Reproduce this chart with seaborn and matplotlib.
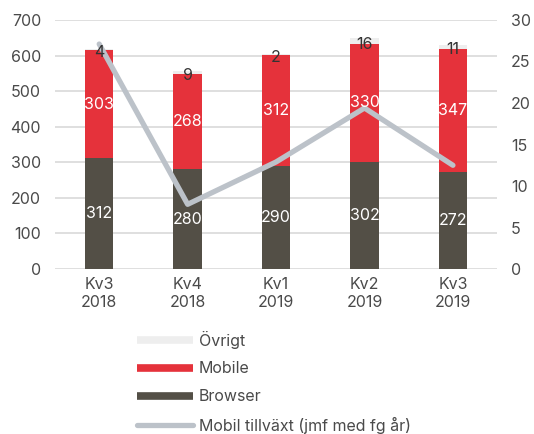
import numpy as np
import pandas as pd
import matplotlib
matplotlib.use("Agg")
import matplotlib.pyplot as plt
import seaborn as sns
from matplotlib.lines import Line2D

quarters = ["Kv3\n2018", "Kv4\n2018", "Kv1\n2019", "Kv2\n2019", "Kv3\n2019"]
browser = [312, 280, 290, 302, 272]
mobile = [303, 268, 312, 330, 347]
ovrigt = [4, 9, 2, 16, 11]
growth = [27.1, 7.8, 12.9, 19.4, 12.5]

c_browser = "#534f46"
c_mobile = "#e5323b"
c_ovrigt = "#eeeeee"
c_line = "#bcc2c9"
c_text = "#4a4a4a"

sns.set_theme(style="white")
plt.rcParams["font.family"] = ["Inter", "DejaVu Sans"]

df = pd.DataFrame({"q": quarters, "browser": browser, "mobile": mobile, "ovrigt": ovrigt})
df["bm"] = df["browser"] + df["mobile"]
df["total"] = df["bm"] + df["ovrigt"]

fig = plt.figure(figsize=(5.34, 4.34), dpi=100)
ax = fig.add_axes([0.103, 0.38, 0.828, 0.574])

bar_kw = dict(width=0.32, ax=ax, saturation=1, zorder=2, linewidth=0, edgecolor="none")
sns.barplot(data=df, x="q", y="total", color=c_ovrigt, **bar_kw)
sns.barplot(data=df, x="q", y="bm", color=c_mobile, **bar_kw)
sns.barplot(data=df, x="q", y="browser", color=c_browser, **bar_kw)

fs = 11.5
ax.set_ylim(0, 700)
ax.set_yticks(range(0, 701, 100))
ax.set_xlim(-0.5, 4.5)
ax.set_xlabel("")
ax.set_ylabel("")
ax.yaxis.grid(True, color="#d9d9d9", linewidth=1.2, zorder=0)
ax.set_axisbelow(True)
for s in ax.spines.values():
    s.set_visible(False)
ax.tick_params(axis="both", length=0, labelsize=fs, labelcolor=c_text)
ax.tick_params(axis="y", pad=10)
ax.tick_params(axis="x", pad=6)

ax2 = ax.twinx()
sns.lineplot(x=np.arange(len(quarters)), y=growth, color=c_line, linewidth=3.8, ax=ax2, zorder=4, solid_capstyle="round")
ax2.set_ylim(0, 30)
ax2.set_yticks(range(0, 31, 5))
ax2.set_xlim(-0.5, 4.5)
for s in ax2.spines.values():
    s.set_visible(False)
ax2.tick_params(axis="y", length=0, labelsize=fs, labelcolor=c_text, pad=10)
ax2.set_ylabel("")

tr = ax.transData
for i in range(len(quarters)):
    ax2.text(i, browser[i] / 2, str(browser[i]), ha="center", va="center", color="white", fontsize=fs, zorder=6, transform=tr)
    ax2.text(i, browser[i] + mobile[i] / 2, str(mobile[i]), ha="center", va="center", color="white", fontsize=fs, zorder=6, transform=tr)
    ax2.text(i, browser[i] + mobile[i] + ovrigt[i] / 2 - 8, str(ovrigt[i]), ha="center", va="center", color="#333333", fontsize=fs, zorder=6, transform=tr)

handles = [
    Line2D([0], [0], color=c_ovrigt, linewidth=5.5, solid_capstyle="butt"),
    Line2D([0], [0], color=c_mobile, linewidth=5.5, solid_capstyle="butt"),
    Line2D([0], [0], color=c_browser, linewidth=5.5, solid_capstyle="butt"),
    Line2D([0], [0], color=c_line, linewidth=3.8, solid_capstyle="round"),
]
labels = ["Övrigt", "Mobile", "Browser", "Mobil tillväxt (jmf med fg år)"]
leg = fig.legend(handles, labels, loc="upper left", bbox_to_anchor=(0.245, 0.253), frameon=False,
                 fontsize=fs, handlelength=3.5, handletextpad=0.35, labelspacing=0.8, borderaxespad=0)
for t in leg.get_texts():
    t.set_color(c_text)

fig.savefig("out.png", dpi=100)
